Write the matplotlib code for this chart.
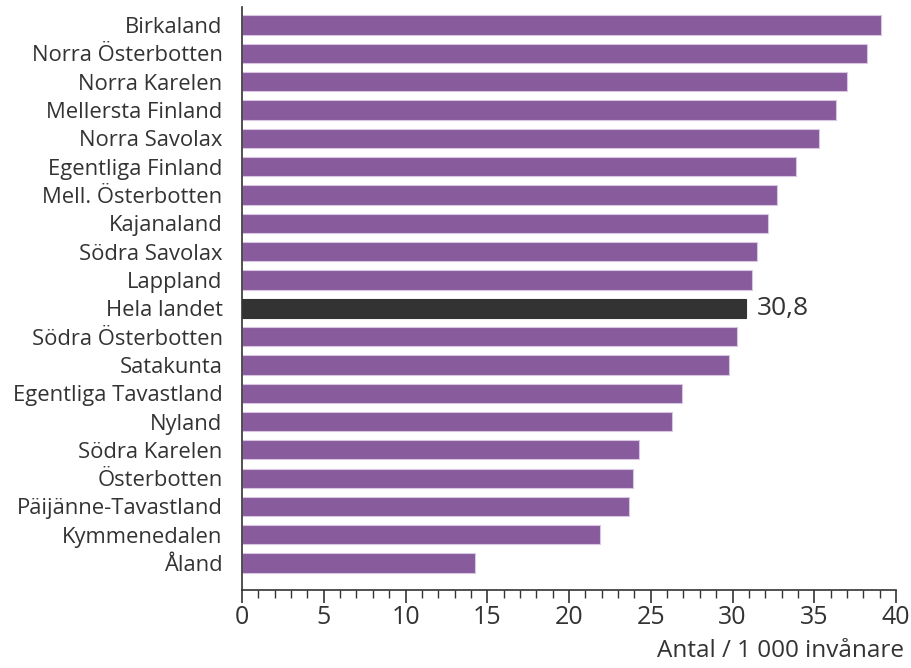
import matplotlib
matplotlib.use("Agg")
import matplotlib.pyplot as plt
from matplotlib.ticker import MultipleLocator

plt.rcParams['font.family'] = ['Open Sans', 'DejaVu Sans']

regions = ["Birkaland", "Norra Österbotten", "Norra Karelen", "Mellersta Finland",
           "Norra Savolax", "Egentliga Finland", "Mell. Österbotten", "Kajanaland",
           "Södra Savolax", "Lappland", "Hela landet", "Södra Österbotten",
           "Satakunta", "Egentliga Tavastland", "Nyland", "Södra Karelen",
           "Österbotten", "Päijänne-Tavastland", "Kymmenedalen", "Åland"]
values = [39.1, 38.2, 37.0, 36.3, 35.3, 33.9, 32.7, 32.2, 31.5, 31.2, 30.8,
          30.3, 29.8, 26.9, 26.3, 24.3, 23.9, 23.7, 21.9, 14.25]
highlight = "Hela landet"
highlight_label = "30,8"
xlabel = "Antal / 1 000 invånare"

purple = "#875b9c"
dark = "#333333"
textc = "#333333"

fig = plt.figure(figsize=(9.11, 6.68), dpi=100)
ax = fig.add_axes([242/911, 1-590/668, (896-242)/911, (590-7)/668])

n = len(regions)
ypos = [n - 1 - i for i in range(n)]
colors = [dark if r == highlight else purple for r in regions]
edges = [dark if r == highlight else "#d8c6e2" for r in regions]
ax.barh(ypos, values, height=0.68, color=colors, edgecolor=edges, linewidth=0.8)

for r, v, y in zip(regions, values, ypos):
    if r == highlight:
        ax.text(v + 0.7, y, highlight_label, va="center", ha="left",
                fontsize=19, color=textc)

ax.set_xlim(0, 40)
ax.set_ylim(-0.95, n - 1 + 0.64)
ax.set_yticks(ypos)
ax.set_yticklabels(regions, fontsize=15.8, color=textc)
ax.tick_params(axis="y", length=0, pad=14)
ax.xaxis.set_major_locator(MultipleLocator(5))
ax.xaxis.set_minor_locator(MultipleLocator(1))
ax.tick_params(axis="x", which="major", length=9, width=1.2, color=textc,
               labelsize=18, labelcolor=textc, pad=2)
ax.tick_params(axis="x", which="minor", length=5.5, width=1.0, color=textc)

for s in ["top", "right"]:
    ax.spines[s].set_visible(False)
for s in ["left", "bottom"]:
    ax.spines[s].set_color(textc)
    ax.spines[s].set_linewidth(1.2)

fig.text(904/911, 1-651/668, xlabel, ha="right", va="center", fontsize=17.5, color=textc)

fig.savefig("out.png", dpi=100)
